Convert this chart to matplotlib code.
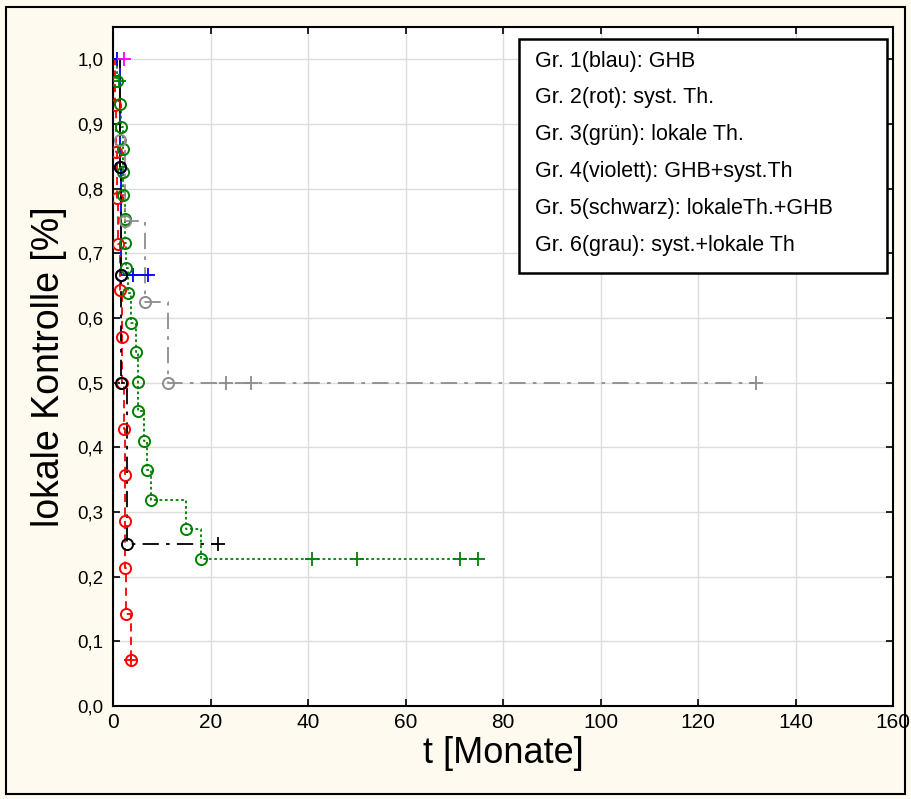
import matplotlib
matplotlib.use("Agg")
import matplotlib.pyplot as plt
from matplotlib.patches import Rectangle

plt.rcParams['font.family'] = ['Liberation Sans', 'DejaVu Sans']

# Kaplan-Meier data (t in months, S = fraction)
blue_event_t = [1.5, 1.6]
blue_event_s = [0.833, 0.667]
blue_cens_t = [0.8, 4.1, 7.2]
blue_cens_s = [1.0, 0.667, 0.667]

red_event_t = [0.5, 0.6, 0.8, 1.0, 1.4, 1.8, 1.8, 2.2, 2.5, 2.5, 2.5, 2.7, 3.7]
red_event_s = [0.929, 0.857, 0.786, 0.714, 0.643, 0.571, 0.5, 0.429, 0.357,
               0.286, 0.214, 0.143, 0.071]
red_cens_t = [3.7]
red_cens_s = [0.071]

green_event_t = [0.8, 1.5, 1.6, 2.0, 2.0, 2.0, 2.4, 2.5, 2.7, 3.1, 3.7, 4.7,
                 5.1, 5.1, 6.4, 7.0, 7.8, 15.0, 18.0]
green_event_s = [0.967, 0.931, 0.896, 0.861, 0.826, 0.790, 0.753, 0.716, 0.677,
                 0.638, 0.593, 0.547, 0.501, 0.456, 0.410, 0.365, 0.319, 0.274,
                 0.228]
green_cens_t = [1.2, 40.8, 50.0, 71.2, 74.9]
green_cens_s = [0.967, 0.228, 0.228, 0.228, 0.228]

violet_event_t = []
violet_event_s = []
violet_cens_t = [2.3]
violet_cens_s = [1.0]

black_event_t = [1.5, 1.6, 1.6, 2.9]
black_event_s = [0.833, 0.667, 0.5, 0.25]
black_cens_t = [21.5]
black_cens_s = [0.25]

grey_event_t = [1.4, 2.5, 6.6, 11.2]
grey_event_s = [0.875, 0.75, 0.625, 0.5]
grey_cens_t = [23.2, 28.4, 131.9]
grey_cens_s = [0.5, 0.5, 0.5]

legend_labels = [
    'Gr. 1(blau): GHB',
    'Gr. 2(rot): syst. Th.',
    'Gr. 3(grün): lokale Th.',
    'Gr. 4(violett): GHB+syst.Th',
    'Gr. 5(schwarz): lokaleTh.+GHB',
    'Gr. 6(grau): syst.+lokale Th',
]

xticks = [0, 20, 40, 60, 80, 100, 120, 140, 160]
yticks = [0.0, 0.1, 0.2, 0.3, 0.4, 0.5, 0.6, 0.7, 0.8, 0.9, 1.0]
ytick_labels = ['0,0', '0,1', '0,2', '0,3', '0,4', '0,5', '0,6', '0,7', '0,8',
                '0,9', '1,0']

groups = [
    (blue_event_t, blue_event_s, blue_cens_t, blue_cens_s, '#0000ff', '-'),
    (red_event_t, red_event_s, red_cens_t, red_cens_s, '#ff0000', (0, (4.5, 3))),
    (green_event_t, green_event_s, green_cens_t, green_cens_s, '#008000', (0, (1.5, 1.5))),
    (violet_event_t, violet_event_s, violet_cens_t, violet_cens_s, '#ff00ff', '-'),
    (grey_event_t, grey_event_s, grey_cens_t, grey_cens_s, '#8c8c8c', (0, (9, 4, 2, 4))),
    (black_event_t, black_event_s, black_cens_t, black_cens_s, '#000000', (0, (9, 4, 2, 4))),
]

bg = '#fffaf0'
fig = plt.figure(figsize=(9.11, 7.99), dpi=100, facecolor=bg)
ax = fig.add_axes([113 / 911, 1 - 706 / 799, 780 / 911, 679 / 799])
ax.set_facecolor('white')

for ev_t, ev_s, c_t, c_s, col, ls in groups:
    end_t = max(ev_t + c_t)
    times = [0] + ev_t + [end_t]
    surv = [1.0] + ev_s + [ev_s[-1] if ev_s else 1.0]
    ax.step(times, surv, where='post', color=col, linestyle=ls, lw=1.3, zorder=3)
    if ev_t:
        ax.plot(ev_t, ev_s, 'o', ms=8, mfc='none', mec=col, mew=1.4, zorder=4)
    ax.plot(c_t, c_s, '+', ms=10, color=col, mew=1.3, zorder=4)

ax.set_xlim(0, 160)
ax.set_ylim(0, 1.05)
ax.set_xticks(xticks)
ax.set_yticks(yticks)
ax.set_yticklabels(ytick_labels)
ax.grid(True, color='#dcdcdc', lw=1)
ax.set_axisbelow(True)
ax.tick_params(direction='in', length=5, width=1.2, top=True, right=True,
               colors='black')
ax.tick_params(axis='x', labelsize=15, pad=5)
ax.tick_params(axis='y', labelsize=13.5, pad=7)
for sp in ax.spines.values():
    sp.set_linewidth(1.5)

ax.set_xlabel('t [Monate]', fontsize=26, labelpad=3)
ax.set_ylabel('lokale Kontrolle [%]', fontsize=27, labelpad=7)

# legend box, text only
x0 = (519 - 113) / 780
y_top = (706 - 39) / 679
y_bot = (706 - 273) / 679
box = Rectangle((x0, y_bot), (887 - 519) / 780, y_top - y_bot, transform=ax.transAxes,
                facecolor='white', edgecolor='black', lw=1.8, zorder=6)
ax.add_patch(box)
for i, lab in enumerate(legend_labels):
    ypx = 61 + i * 36.8
    ax.text((535 - 113) / 780, (706 - ypx) / 679, lab, transform=ax.transAxes,
            fontsize=15.5, va='center', ha='left', zorder=7)

# outer frame
fig.patches.append(Rectangle((6 / 911, 1 - 794 / 799), 899 / 911, 787 / 799,
                             transform=fig.transFigure, fill=False,
                             edgecolor='black', lw=1.5))

fig.savefig('out.png', dpi=100, facecolor=bg)
